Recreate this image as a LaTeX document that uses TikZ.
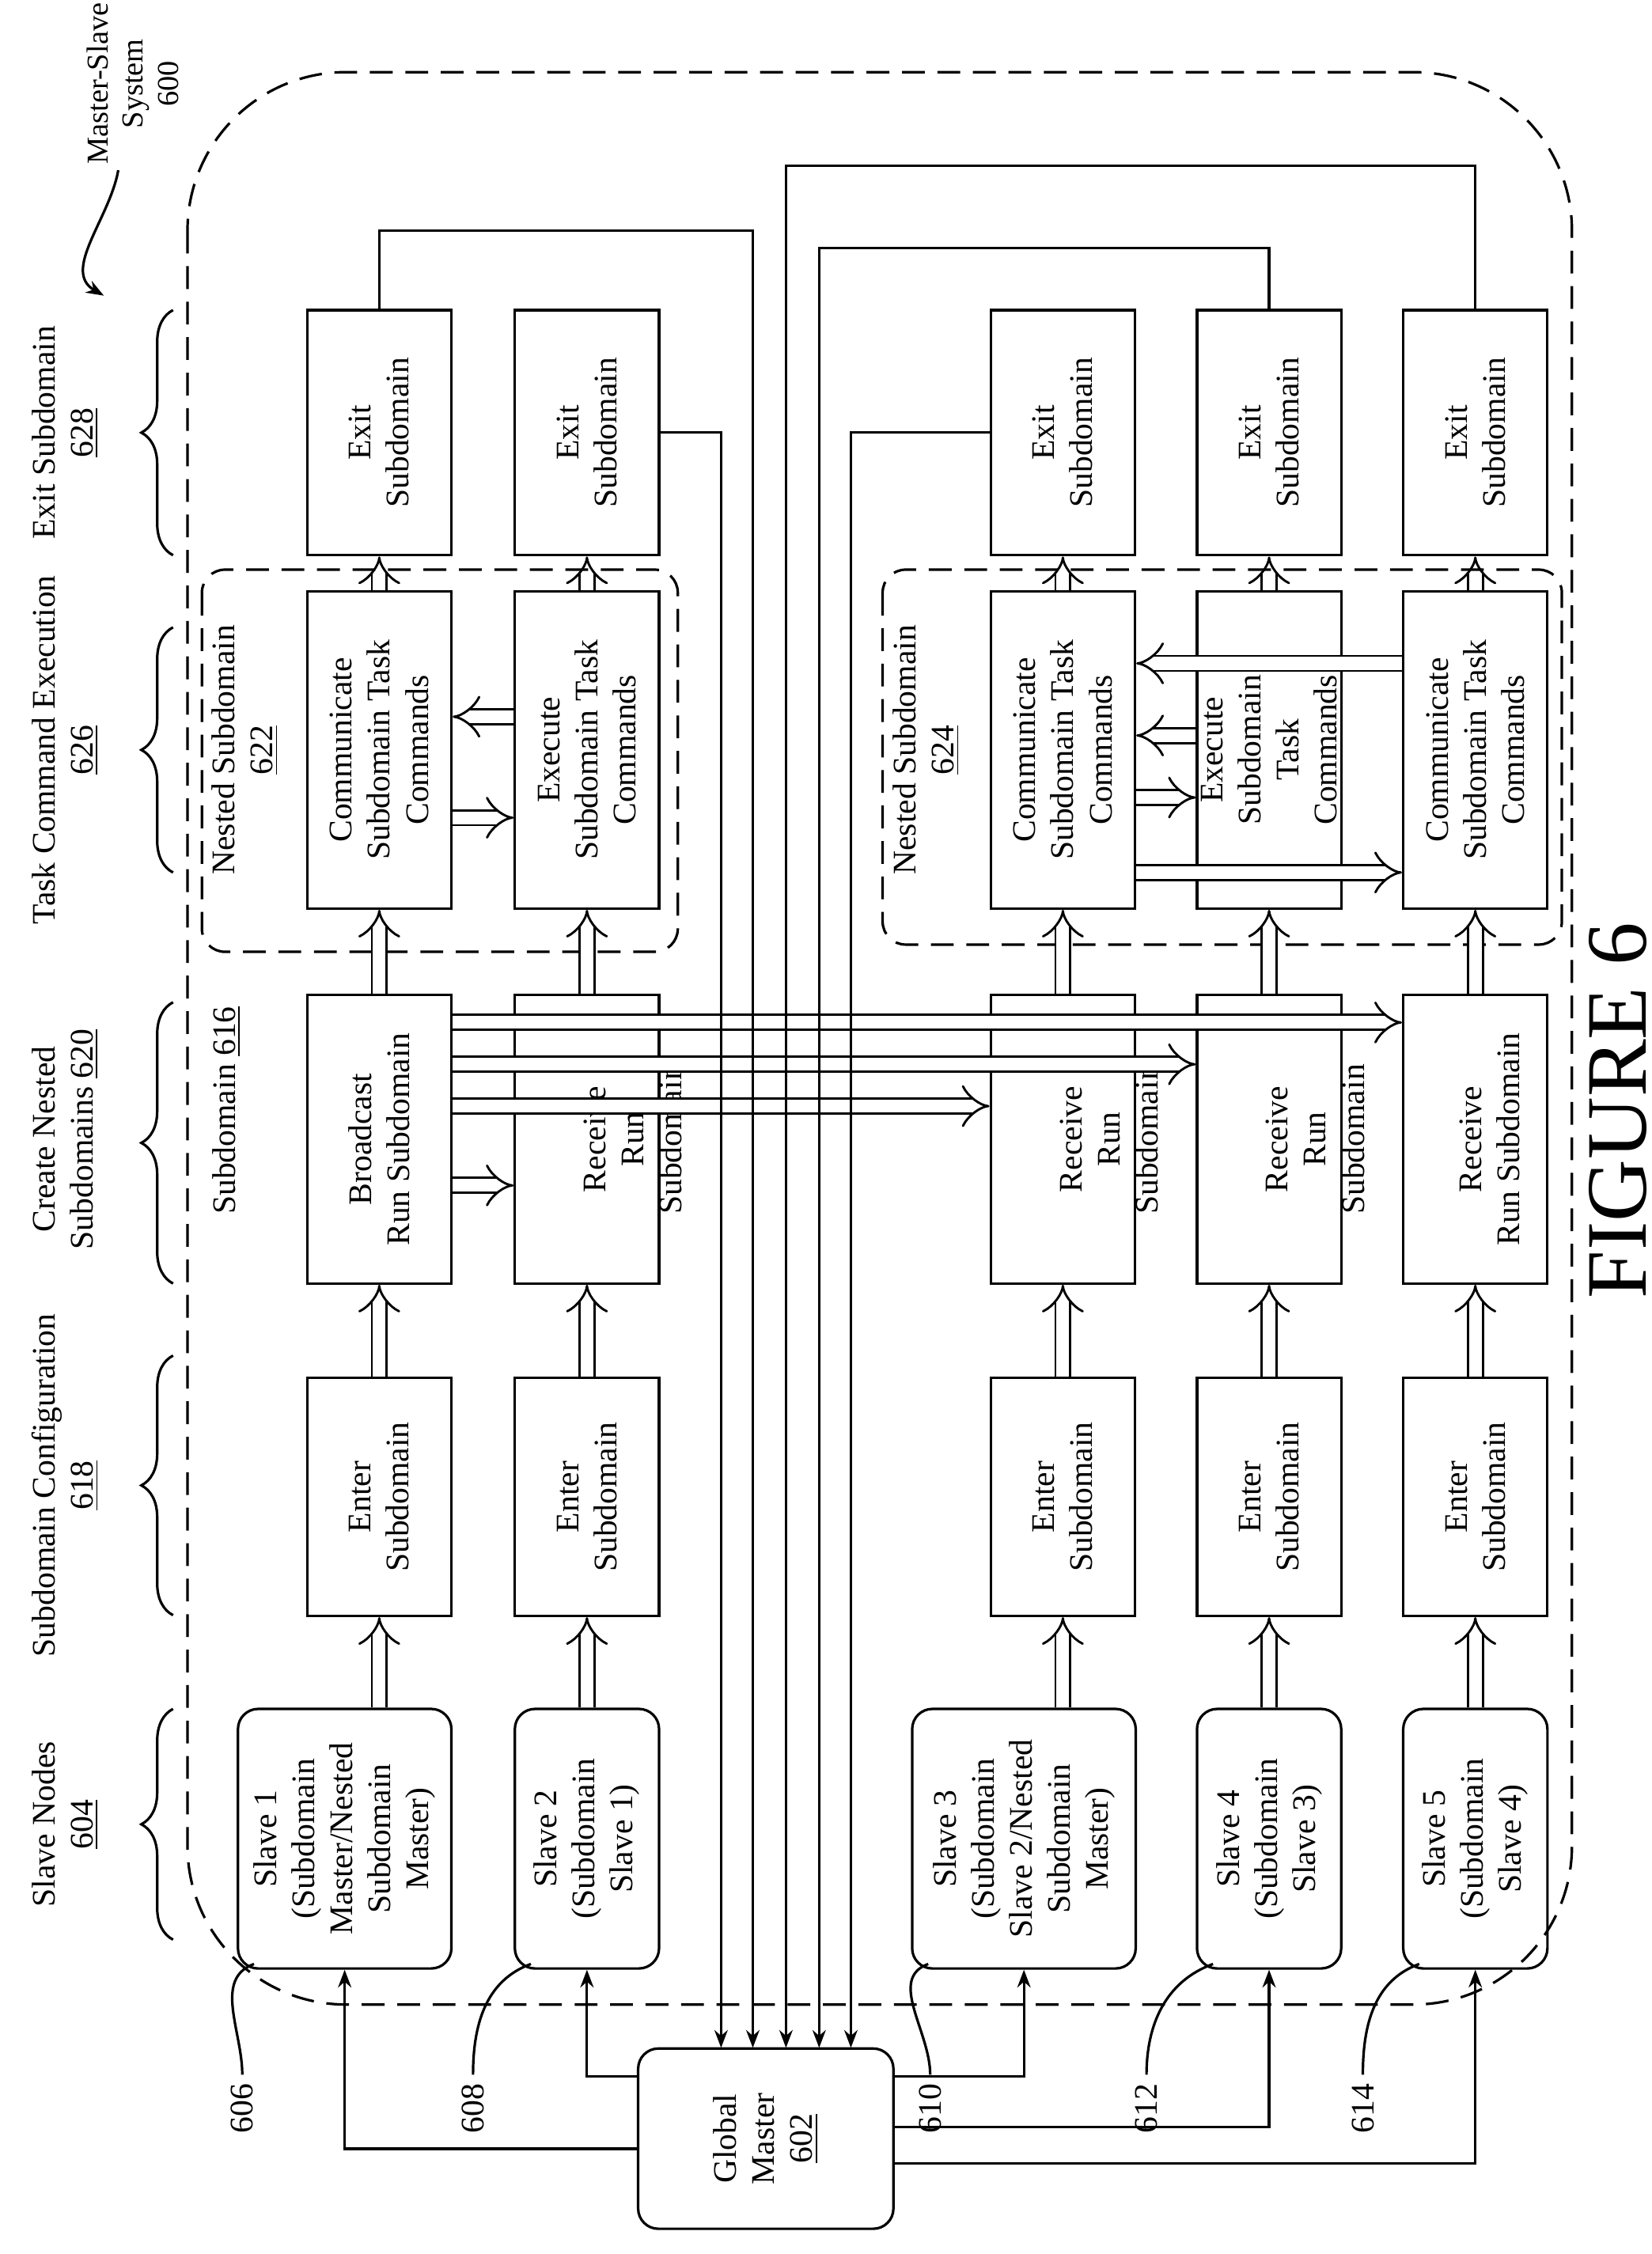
\documentclass[tikz,border=0pt]{standalone}
\usepackage{fontspec}
\setmainfont{Liberation Serif}
\usetikzlibrary{arrows.meta,decorations.pathreplacing,calc}
\newcommand{\pxu}{0.02cm}
\tikzset{
  blk/.style={draw, line width=1pt, minimum height=100*\pxu},
  rblk/.style={blk, rounded corners=14*\pxu},
  txt/.style={rotate=90, align=center, font=\fontsize{13}{15}\selectfont},
  hollow/.style={double, double distance=5pt, line width=0.9pt, -{Implies}},
  link/.style={line width=1pt, -{Stealth[length=7pt]}},
  dashbox/.style={line width=1pt, dash pattern=on 9pt off 5pt},
  brc/.style={line width=1pt, decorate, decoration={brace, amplitude=22*\pxu}}
}
\begin{document}
\begin{tikzpicture}[x=\pxu, y=-\pxu]
  \useasboundingbox (0,0) rectangle (1145,1563);

  % outer system
  \draw[dashbox, rounded corners=110*\pxu] (130,50) rectangle (1090,1390);
  \node[txt, font=\fontsize{12}{14}\selectfont] (msys) at (92,58) {Master-Slave\\System\\600};
  \draw[link] (82,118) to[out=-100, in=150] (72,205);

  % phases
  \node[txt] (ph1) at (45,1265) {Slave Nodes\\\underline{604}};
  \node[txt] (ph2) at (45,1030) {Subdomain Configuration\\\underline{618}};
  \node[txt] (ph3) at (45,790) {Create Nested\\Subdomains \underline{620}};
  \node[txt] (ph4) at (45,520) {Task Command Execution\\\underline{626}};
  \node[txt] (ph5) at (45,300) {Exit Subdomain\\\underline{628}};
  \draw[brc] (120,1345) -- (120,1185);
  \draw[brc] (120,1120) -- (120,940);
  \draw[brc] (120,890) -- (120,695);
  \draw[brc] (120,605) -- (120,435);
  \draw[brc] (120,385) -- (120,215);
  \node[txt] (sub616) at (157,770) {Subdomain \underline{616}};

  % nested subdomains
  \draw[dashbox, rounded corners=16*\pxu] (140,395) rectangle (470,660);
  \draw[dashbox, rounded corners=16*\pxu] (612,395) rectangle (1083,655);
  \node[txt] (n622) at (170,520) {Nested Subdomain\\\underline{622}};
  \node[txt] (n624) at (642,520) {Nested Subdomain\\\underline{624}};

  % slaves
  \node[rblk, minimum width=148*\pxu, minimum height=180*\pxu, label={[txt]center:{Slave 1\\(Subdomain\\Master/Nested\\Subdomain\\Master)}}] (s1) at (239,1275) {};
  \node[rblk, minimum width=100*\pxu, minimum height=180*\pxu, label={[txt]center:{Slave 2\\(Subdomain\\Slave 1)}}] (s2) at (407,1275) {};
  \node[rblk, minimum width=155*\pxu, minimum height=180*\pxu, label={[txt]center:{Slave 3\\(Subdomain\\Slave 2/Nested\\Subdomain\\Master)}}] (s3) at (710,1275) {};
  \node[rblk, minimum width=100*\pxu, minimum height=180*\pxu, label={[txt]center:{Slave 4\\(Subdomain\\Slave 3)}}] (s4) at (880,1275) {};
  \node[rblk, minimum width=100*\pxu, minimum height=180*\pxu, label={[txt]center:{Slave 5\\(Subdomain\\Slave 4)}}] (s5) at (1023,1275) {};

  % enter
  \foreach \nm/\xx in {en1/263, en2/407, en3/737, en4/880, en5/1023}
    \node[blk, minimum width=100*\pxu, minimum height=165*\pxu, label={[txt]center:{Enter\\Subdomain}}] (\nm) at (\xx,1038) {};

  % run
  \node[blk, minimum width=100*\pxu, minimum height=200*\pxu, label={[txt]center:{Broadcast\\Run Subdomain}}] (r1) at (263,790) {};
  \foreach \nm/\xx in {r2/407, r3/737, r4/880}
    \node[blk, minimum width=100*\pxu, minimum height=200*\pxu, label={[txt, yshift=-32*\pxu]center:{Receive\\Run\\Subdomain}}] (\nm) at (\xx,790) {};
  \node[blk, minimum width=100*\pxu, minimum height=200*\pxu, label={[txt, yshift=-10*\pxu]center:{Receive\\Run Subdomain}}] (r5) at (1023,790) {};

  % task
  \node[blk, minimum width=100*\pxu, minimum height=220*\pxu, label={[txt]center:{Communicate\\Subdomain Task\\Commands}}] (t1) at (263,520) {};
  \node[blk, minimum width=100*\pxu, minimum height=220*\pxu, label={[txt]center:{Execute\\Subdomain Task\\Commands}}] (t2) at (407,520) {};
  \node[blk, minimum width=100*\pxu, minimum height=220*\pxu, label={[txt]center:{Communicate\\Subdomain Task\\Commands}}] (t3) at (737,520) {};
  \node[blk, minimum width=100*\pxu, minimum height=220*\pxu, label={[txt]center:{Execute\\Subdomain\\Task\\Commands}}] (t4) at (880,520) {};
  \node[blk, minimum width=100*\pxu, minimum height=220*\pxu, label={[txt]center:{Communicate\\Subdomain Task\\Commands}}] (t5) at (1023,520) {};

  % exit
  \foreach \nm/\xx in {ex1/263, ex2/407, ex3/737, ex4/880, ex5/1023}
    \node[blk, minimum width=100*\pxu, minimum height=170*\pxu, label={[txt]center:{Exit\\Subdomain}}] (\nm) at (\xx,300) {};

  % vertical flow
  \foreach \i in {1,...,5} {
    \draw[hollow] (en\i.south |- s\i.north) -- (en\i.south);
    \draw[hollow] (en\i.north) -- (r\i.south);
    \draw[hollow] (r\i.north) -- (t\i.south);
    \draw[hollow] (t\i.north) -- (ex\i.south);
  }

  % broadcast
  \draw[hollow] (r1.east |- 0,822) -- (r2.west |- 0,822);
  \draw[hollow] (r1.east |- 0,767) -- (r3.west |- 0,767);
  \draw[hollow] (r1.east |- 0,738) -- (r4.west |- 0,738);
  \draw[hollow] (r1.east |- 0,709) -- (r5.west |- 0,709);

  % task exchange
  \draw[hollow] (t2.west |- 0,497) -- (t1.east |- 0,497);
  \draw[hollow] (t1.east |- 0,567) -- (t2.west |- 0,567);
  \draw[hollow] (t5.west |- 0,460) -- (t3.east |- 0,460);
  \draw[hollow] (t4.west |- 0,510) -- (t3.east |- 0,510);
  \draw[hollow] (t3.east |- 0,553) -- (t4.west |- 0,553);
  \draw[hollow] (t3.east |- 0,605) -- (t5.west |- 0,605);

  % global master
  \node[rblk, minimum width=177*\pxu, minimum height=125*\pxu, label={[txt]center:{Global\\Master\\\underline{602}}}] (gm) at (531,1483) {};
  \coordinate (m1) at (500,1420);
  \coordinate (m2) at (522,1420);
  \coordinate (m3) at (545,1420);
  \coordinate (m4) at (568,1420);
  \coordinate (m5) at (590,1420);
  \draw[link] (ex2.east) -| (m1);
  \draw[link] (ex1.north) |- (522,160) -- (m2);
  \draw[link] (ex5.north) |- (545,115) -- (m3);
  \draw[link] (ex4.north) |- (568,172) -- (m4);
  \draw[link] (ex3.west) -| (m5);

  \coordinate (p1) at (443,1490);
  \coordinate (p2) at (443,1440);
  \coordinate (p3) at (620,1440);
  \coordinate (p4) at (620,1475);
  \coordinate (p5) at (620,1500);
  \foreach \i in {1,...,5}
    \draw[link] (p\i) -| (s\i.south);

  % references
  \foreach \nm/\xx/\lbl/\sx in {l1/168/606/s1, l2/328/608/s2, l3/645/610/s3, l4/795/612/s4, l5/945/614/s5} {
    \node[txt] (\nm) at (\xx,1462) {\lbl};
    \draw[line width=1pt] (\nm.east) to[out=90, in=200] ($(\sx.south west)+(12,-4)$);
  }

  \node[rotate=90, font=\fontsize{34}{40}\selectfont] (fig) at (1122,770) {FIGURE 6};
\end{tikzpicture}
\end{document}
